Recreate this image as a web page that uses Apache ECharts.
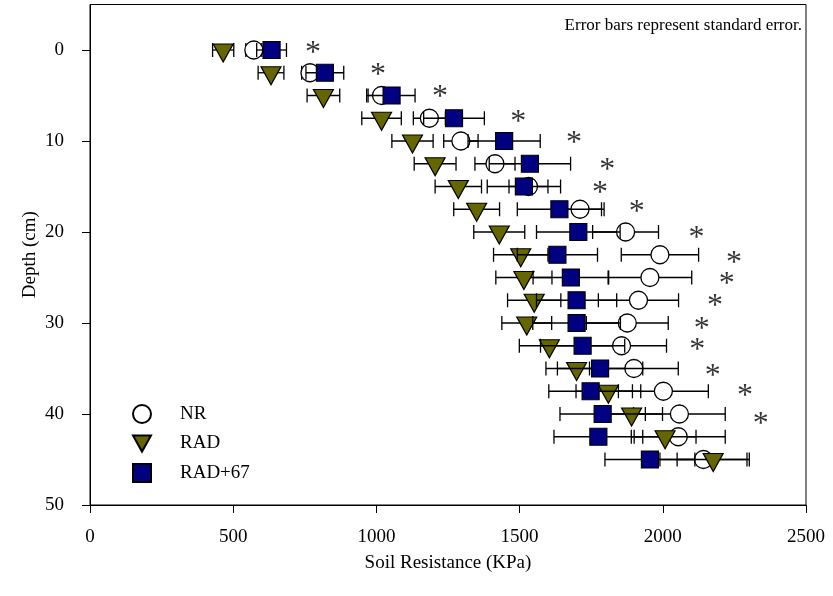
<!DOCTYPE html>
<html>
<head>
<meta charset="utf-8">
<script src="https://cdn.jsdelivr.net/npm/echarts@6/dist/echarts.min.js"></script>
<style>html,body{margin:0;padding:0;background:#fff}#c{width:833px;height:596px}</style>
</head>
<body>
<div id="c"></div>
<script>
const depths = [0,2.5,5,7.5,10,12.5,15,17.5,20,22.5,25,27.5,30,32.5,35,37.5,40,42.5,45];
const nrMean = [572,768,1018,1185,1295,1414,1531,1711,1870,1990,1955,1915,1876,1856,1899,2002,2058,2054,2142];
const nrSE = [28,29,52,56,60,70,68,84,115,135,146,140,143,157,155,157,160,164,152];
const radMean = [465,632,815,1018,1126,1205,1286,1350,1429,1504,1515,1551,1525,1604,1699,1810,1891,2008,2176];
const radSE = [37,45,57,69,72,73,81,80,89,95,98,93,87,105,107,113,108,108,126];
const rad67Mean = [634,820,1053,1271,1446,1536,1515,1639,1705,1632,1679,1699,1699,1720,1781,1748,1790,1775,1955];
const rad67SE = [52,66,82,106,126,142,128,147,146,140,132,140,153,147,149,146,149,155,157];
const starX = [779,1006,1222,1495,1690,1806,1781,1909,2118,2249,2223,2182,2136,2120,2174,2287,2342];
const starDepth = [0.1,2.5,4.9,7.6,10,12.9,15.5,17.5,20.4,23.1,25.4,27.9,30.4,32.7,35.6,37.8,40.8];
const xTicks = [0,500,1000,1500,2000,2500];
const yTicks = [0,10,20,30,40,50];
const seriesNames = ['NR','RAD','RAD+67'];
const noteText = 'Error bars represent standard error.';

const FONT = '"Liberation Serif","Times New Roman",serif';
const triPath = 'path://M0,0L20,0L10,18Z';

function errSeries(mean, se, z) {
  return {
    type: 'custom',
    z: z,
    silent: true,
    data: depths.map((d, i) => [mean[i], d, se[i]]),
    encode: { x: 0, y: 1 },
    renderItem: function (params, api) {
      const m = api.value(0), d = api.value(1), e = api.value(2);
      const a = api.coord([m - e, d]);
      const b = api.coord([m + e, d]);
      const h = 7;
      const st = { stroke: '#000', lineWidth: 1.3 };
      return {
        type: 'group',
        children: [
          { type: 'line', shape: { x1: a[0], y1: a[1], x2: b[0], y2: b[1] }, style: st },
          { type: 'line', shape: { x1: a[0], y1: a[1] - h, x2: a[0], y2: a[1] + h }, style: st },
          { type: 'line', shape: { x1: b[0], y1: b[1] - h, x2: b[0], y2: b[1] + h }, style: st }
        ]
      };
    }
  };
}

const chart = echarts.init(document.getElementById('c'), null, { renderer: 'canvas' });
chart.setOption({
  animation: false,
  backgroundColor: '#fff',
  textStyle: { fontFamily: FONT },
  grid: { left: 90, right: 27, top: 4.5, bottom: 91, outerBoundsMode: 'none', containLabel: false,
          show: true, borderColor: '#000', borderWidth: 1, backgroundColor: 'transparent' },
  xAxis: {
    type: 'value', min: xTicks[0], max: xTicks[xTicks.length - 1], interval: 500,
    name: 'Soil Resistance (KPa)', nameLocation: 'middle', nameGap: 49, nameMoveOverlap: false,
    nameTextStyle: { fontFamily: FONT, fontSize: 19, color: '#000' },
    axisLine: { onZero: false, lineStyle: { color: '#000', width: 1 } },
    axisTick: { show: true, inside: false, length: 8, lineStyle: { color: '#000' } },
    axisLabel: { fontFamily: FONT, fontSize: 19, color: '#000', margin: 23, formatter: v => String(v) },
    splitLine: { show: false }
  },
  yAxis: {
    type: 'value', min: -5, max: 50, inverse: true,
    name: 'Depth (cm)', nameLocation: 'middle', nameGap: 50, nameMoveOverlap: false,
    nameTextStyle: { fontFamily: FONT, fontSize: 19, color: '#000' },
    axisLine: { onZero: false, lineStyle: { color: '#000', width: 1 } },
    axisTick: { show: true, inside: false, length: 8, customValues: yTicks, lineStyle: { color: '#000' } },
    axisLabel: { fontFamily: FONT, fontSize: 19, color: '#000', margin: 26, customValues: yTicks, formatter: v => String(v) },
    splitLine: { show: false }
  },
  legend: {
    orient: 'vertical', left: 127, top: 399, itemGap: 10,
    itemWidth: 18, itemHeight: 18,
    textStyle: { fontFamily: FONT, fontSize: 19, color: '#000', padding: [0, 0, 0, 24] },
    data: [
      { name: seriesNames[0], icon: 'circle' },
      { name: seriesNames[1], icon: triPath },
      { name: seriesNames[2], icon: 'rect' }
    ]
  },
  graphic: [{
    type: 'text', right: 31, top: 17, z: 20,
    style: { text: noteText, font: '17px ' + FONT, fill: '#000' }
  }],
  series: [
    errSeries(nrMean, nrSE, 2),
    {
      name: seriesNames[0], type: 'scatter', z: 3,
      symbol: 'circle', symbolSize: 18,
      itemStyle: { color: '#fff', borderColor: '#000', borderWidth: 1.3, opacity: 1 },
      data: depths.map((d, i) => [nrMean[i], d])
    },
    errSeries(radMean, radSE, 4),
    {
      name: seriesNames[1], type: 'scatter', z: 5,
      symbol: triPath, symbolSize: [20, 18], symbolOffset: [0, 3],
      itemStyle: { color: '#666600', borderColor: '#000', borderWidth: 1.2, opacity: 1 },
      data: depths.map((d, i) => [radMean[i], d])
    },
    errSeries(rad67Mean, rad67SE, 6),
    {
      name: seriesNames[2], type: 'scatter', z: 7,
      symbol: 'rect', symbolSize: 17,
      itemStyle: { color: '#000080', borderColor: '#000', borderWidth: 1.2, opacity: 1 },
      data: depths.map((d, i) => [rad67Mean[i], d])
    },
    {
      name: 'stars', type: 'scatter', z: 8, silent: true,
      symbol: 'circle', symbolSize: 2, itemStyle: { color: 'rgba(0,0,0,0)' },
      labelLayout: { hideOverlap: false },
      label: { show: true, position: [1, 4], align: 'center', verticalAlign: 'middle',
               formatter: '*', fontFamily: FONT, fontSize: 32, color: '#000' },
      data: starX.map((x, i) => [x, starDepth[i]])
    }
  ]
});
</script>
</body>
</html>
